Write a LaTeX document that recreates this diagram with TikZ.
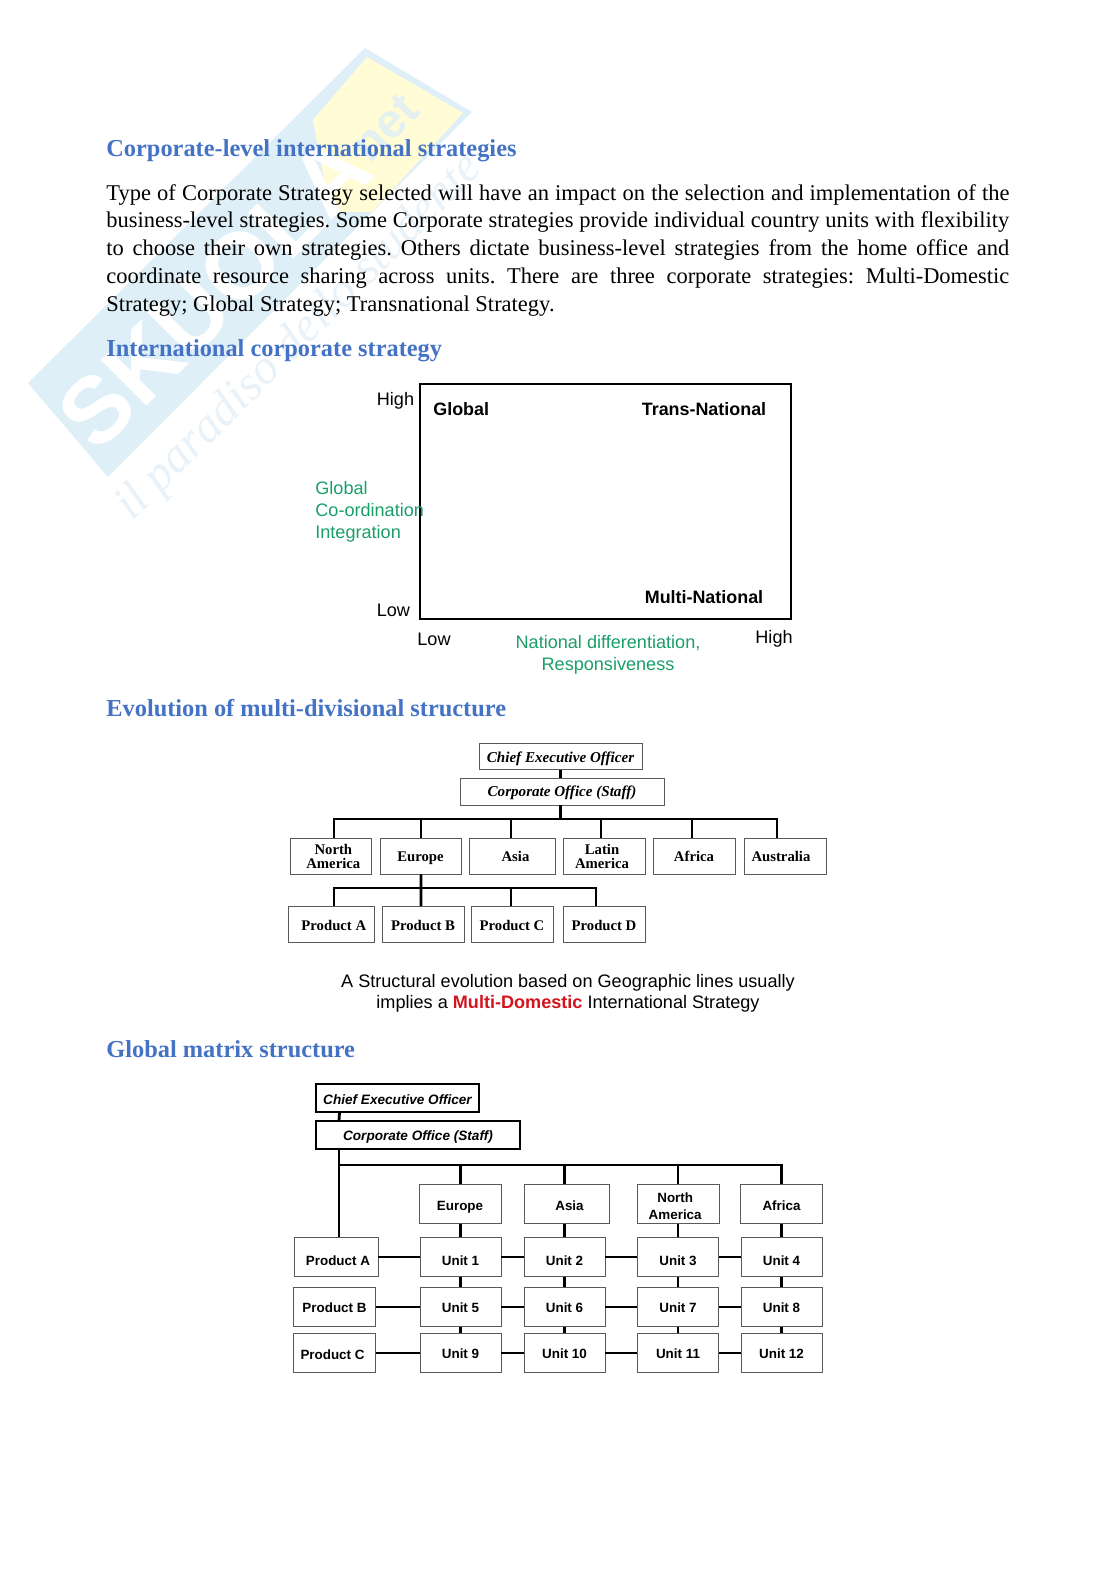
\documentclass[tikz,border=0pt]{standalone}
\usepackage{xcolor}
\usepackage{fontspec}
\setmainfont{Liberation Serif}
\setsansfont{Liberation Sans}
\usepackage{tikz}
\usetikzlibrary{positioning,calc}
\definecolor{cHead}{HTML}{4472C4}
\definecolor{cGreen}{HTML}{1A9E6A}
\definecolor{cRed}{HTML}{D2141E}
\definecolor{cBand}{HTML}{DFEFF8}
\definecolor{cSun}{HTML}{FFFCD6}
\definecolor{cMark}{HTML}{E9F2F8}
\def\px{0.5334pt}
\def\rnudge#1#2{\hbox{\kern#1 #2}}
\def\lnudge#1#2{\hbox{#2\kern#1}}
\tikzset{
  head/.style={anchor=west, inner sep=0pt, text=cHead, font=\fontsize{13}{15}\selectfont\bfseries},
  para/.style={anchor=north west, inner sep=0pt, text width=903*\px, align=justify,
               font=\fontsize{12}{14.8}\selectfont\frenchspacing},
  axislbl/.style={inner sep=0pt, font=\sffamily\fontsize{9.65}{11.7}\selectfont},
  axisg/.style={axislbl, text=cGreen},
  corner/.style={axislbl, font=\sffamily\bfseries\fontsize{9.55}{11.7}\selectfont},
  box/.style={draw=black!65, line width=0.5pt, inner sep=0pt, align=center,
              fill=white, minimum height=36*\px},
  geo/.style={box, text height=6pt, text depth=0pt, font=\bfseries\fontsize{7.85}{7.6}\selectfont},
  execa/.style={box, text depth=0pt, font=\bfseries\itshape\fontsize{8.05}{9}\selectfont},
  sansbox/.style={box, text depth=0pt, minimum height=39*\px, font=\sffamily\bfseries\fontsize{7.15}{8.6}\selectfont},
  topbox/.style={draw=black, line width=0.6pt, inner sep=0pt, fill=white, text depth=0pt,
              font=\sffamily\bfseries\itshape\fontsize{7.25}{8.6}\selectfont},
  trunk/.style={line width=1.5pt, draw=black},
  wmark/.style={inner sep=0pt, rotate=45},
}
\begin{document}
\begin{tikzpicture}[x=0.5334pt, y=-0.5334pt]
  \useasboundingbox (0,0) rectangle (1116,1579);

  % watermark
  \fill[cBand] (365,48) -- (472,112) -- (108,477) -- (28,383) -- cycle;
  \fill[cSun] (313,120) -- (367,57) -- (463,113) -- (372,212) -- (330,212) -- cycle;
  \node[wmark, text=white, font=\sffamily\bfseries\fontsize{50}{50}\selectfont] (skuola) at (215,292) {SKUOLA};
  \node[wmark, text=cBand!80!cSun, font=\sffamily\bfseries\fontsize{26}{26}\selectfont] (net) at (385,128) {net};
  \node[wmark, text=cMark, font=\itshape\fontsize{26}{26}\selectfont] (motto) at (300,338) {il paradiso dello studente};

  % titles and text
  \node[head] (title) at (106,151) {Corporate-level international strategies};
  \node[para] (intro) at (106,184) {Type of Corporate Strategy selected will have an impact on the selection and implementation of the\linebreak business-level strategies. Some Corporate strategies provide individual country units with flexibility\linebreak to choose their own strategies. Others dictate business-level strategies from the home office and\linebreak coordinate resource sharing across units. There are three corporate strategies: Multi-Domestic\linebreak Strategy; Global Strategy; Transnational Strategy.};
  \node[head] (htwo) at (106,350.5) {International corporate strategy};
  \node[head] (hthree) at (106,708) {Evolution of multi-divisional structure};
  \node[head] (hfour) at (106,1049.5) {Global matrix structure};

  % strategy grid
  \node[draw=black, line width=0.9pt, inner sep=0pt, minimum width=371*\px, minimum height=235*\px] (grid) at (605.5,501.5) {};
  \node[axislbl, anchor=west] (highy) at (376.5,401) {High};
  \node[axislbl, anchor=west] (lowy) at (376.5,610) {Low};
  \node[axislbl, anchor=west] (lowx) at (417,639) {Low};
  \node[axislbl, anchor=east] (highx) at (793,639) {High};
  \node[corner, anchor=west] (glob) at (433,409) {Global};
  \node[corner] (trans) at (704,409) {Trans-National};
  \node[corner] (multi) at (704,597) {Multi-National};
  \node[axisg, anchor=west, align=left] (coord) at (315,512) {Global\\Co-ordination\\Integration};
  \node[axisg, align=center] (resp) at (608,655) {National differentiation,\\Responsiveness};

  % geographic structure
  \node[execa, text height=6pt, minimum width=163*\px, minimum height=25.5*\px] (ceoa) at (560.5,756.5) {Chief Executive Officer};
  \node[execa, text height=5pt, minimum width=204*\px, minimum height=27*\px] (corpa) at (562,791.5) {Corporate Office (Staff)};
  \node[geo, text height=13.6pt, minimum width=81*\px] (na) at (330.5,856) {\rnudge{3pt}{North}\\\rnudge{3pt}{America}};
  \node[geo, minimum width=81*\px] (eu) at (420.5,856) {Europe};
  \node[geo, minimum width=86*\px] (as) at (512,856) {\rnudge{3.7pt}{Asia}};
  \node[geo, text height=13.6pt, minimum width=82*\px] (la) at (604,856) {\lnudge{2.1pt}{Latin}\\\lnudge{2.1pt}{America}};
  \node[geo, minimum width=82*\px] (af) at (694,856) {Africa};
  \node[geo, minimum width=82*\px] (au) at (785,856) {\lnudge{4.3pt}{Australia}};
  \node[geo, minimum width=86*\px] (pa) at (331,924.5) {\rnudge{3pt}{Product A}};
  \node[geo, minimum width=82*\px] (pb) at (423,924.5) {Product B};
  \node[geo, minimum width=82*\px] (pc) at (512,924.5) {Product C};
  \node[geo, minimum width=82*\px] (pd) at (604,924.5) {Product D};
  \coordinate (busa) at (334,819);
  \coordinate (busb) at (334,888);

  \draw[trunk] (ceoa.south) -- (corpa.north -| ceoa.south);
  \draw[trunk] (ceoa.south |- corpa.south) -- (ceoa.south |- busa);
  \draw[trunk, line cap=rect] (busa) -- (777,819);
  \foreach \n/\s in {na/3.5,eu/0.5,as/-1,la/-3,af/-2,au/-8}
    \draw[trunk] ([xshift=\s*\px]\n.north) -- ([xshift=\s*\px]\n.north |- busa);
  \draw[trunk] ([xshift=0.5*\px]eu.south) -- ([xshift=-2*\px]pb.north);
  \draw[trunk, line cap=rect] (busb) -- (596,888);
  \foreach \n/\s in {pa/3,pc/-1,pd/-8}
    \draw[trunk] ([xshift=\s*\px]\n.north) -- ([xshift=\s*\px]\n.north |- busb);

  \node[inner sep=0pt, align=center, font=\sffamily\fontsize{9.65}{11.2}\selectfont] (capt) at (568,993.5)
    {A Structural evolution based on Geographic lines usually\\implies a \textcolor{cRed}{\textbf{Multi-Domestic}} International Strategy};

  % matrix structure
  \node[topbox, text height=7pt, minimum width=163*\px, minimum height=28*\px] (ceob) at (397.5,1098) {Chief Executive Officer};
  \node[topbox, text height=6pt, minimum width=204*\px, minimum height=28*\px] (corpb) at (418,1135) {Corporate Office (Staff)};
  \node[sansbox, text height=7.4pt, minimum width=82*\px] (reu) at (460,1204) {Europe};
  \node[sansbox, text height=7.4pt, minimum width=85*\px] (ras) at (566.5,1204) {\rnudge{3.2pt}{Asia}};
  \node[sansbox, text height=16pt, minimum width=82*\px] (rna) at (678,1204) {\lnudge{3pt}{North}\\\lnudge{3pt}{America}};
  \node[sansbox, text height=7.4pt, minimum width=82*\px] (raf) at (781.5,1204) {Africa};
  \node[sansbox, text height=9.3pt, minimum width=84*\px] (proda) at (336,1257) {\rnudge{2.1pt}{Product A}};
  \node[sansbox, text height=6.2pt, minimum width=82*\px] (prodb) at (334.5,1307) {Product B};
  \node[sansbox, text height=7.4pt, minimum width=82*\px] (prodc) at (334.5,1353) {\lnudge{2.1pt}{Product C}};
  \foreach \u/\x/\t in {u1/460.5/Unit 1,u2/564.5/Unit 2,u3/678/Unit 3,u4/781.5/Unit 4}
    \node[sansbox, text height=9.3pt, minimum width=81*\px] (\u) at (\x,1257) {\t};
  \foreach \u/\x/\t in {u5/460.5/Unit 5,u6/564.5/Unit 6,u7/678/Unit 7,u8/781.5/Unit 8}
    \node[sansbox, text height=6.2pt, minimum width=81*\px] (\u) at (\x,1307) {\t};
  \foreach \u/\x/\t in {u9/460.5/Unit 9,u10/564.5/Unit 10,u11/678/Unit 11,u12/781.5/Unit 12}
    \node[sansbox, text height=6.2pt, minimum width=81*\px] (\u) at (\x,1353) {\t};
  \coordinate (busc) at (339,1165);

  \draw[trunk] ([xshift=-58*\px]ceob.south) -- ([xshift=-79*\px]corpb.north);
  \draw[trunk] ([xshift=-79*\px]corpb.south) -- (busc) -- ([xshift=3*\px]proda.north);
  \draw[trunk, line cap=rect] (busc) -- (782,1165);
  \foreach \n/\m/\o in {reu/u1/u5,ras/u2/u6,rna/u3/u7,raf/u4/u8}
    \draw[trunk] (\n.north -| \m.north) -- (\m.north |- busc)
                 (\n.south -| \m.north) -- (\m.north)
                 (\m.south) -- (\o.north);
  \foreach \a/\b in {u5/u9,u6/u10,u7/u11,u8/u12}
    \draw[trunk] (\a.south) -- (\b.north);
  \foreach \a/\b in {proda/u1,u1/u2,u2/u3,u3/u4,prodb/u5,u5/u6,u6/u7,u7/u8,prodc/u9,u9/u10,u10/u11,u11/u12}
    \draw[trunk] (\a) -- (\b);
\end{tikzpicture}
\end{document}
